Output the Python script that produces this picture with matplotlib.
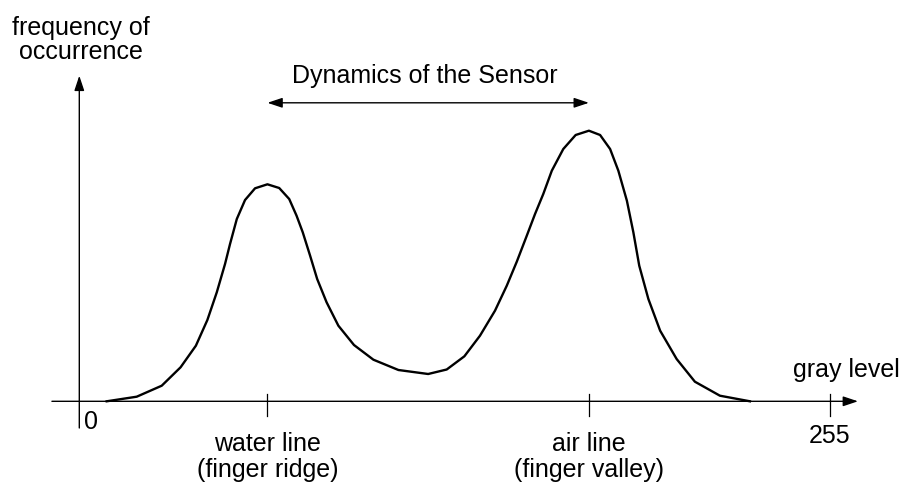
import matplotlib
matplotlib.use("Agg")
import matplotlib.pyplot as plt

plt.rcParams['font.family'] = ['Liberation Sans', 'DejaVu Sans']

# histogram outline (gray level, frequency of occurrence)
gray = [9.3, 19.5, 28.0, 34.4, 39.6, 43.5, 46.7, 49.5, 51.2, 53.5, 56.3, 59.7,
        63.9, 67.9, 71.3, 73.8, 75.9, 78.4, 80.8, 84.0, 88.0, 93.3, 99.9, 108.4,
        118.5, 124.8, 130.8, 136.1, 141.2, 145.2, 148.6, 152.0, 154.8, 157.6,
        160.5, 164.4, 168.6, 173.1, 176.9, 180.3, 183.1, 186.0, 188.2, 190.2,
        193.3, 197.3, 202.9, 209.1, 217.6, 227.8]
freq = [0, 4.6, 15.6, 34, 55.6, 81.3, 109, 137.3, 157.3, 182.3, 201.3, 213,
        217, 213.3, 202.3, 185.6, 169, 145.6, 122.3, 99, 75.6, 56.3, 41.6, 31.3,
        27.3, 31.8, 45, 65.6, 90.6, 115.6, 139.6, 165.6, 187.3, 207.3,
        230.6, 252.3, 266.3, 270.6, 266.3, 252.3, 230.6, 200.6, 169, 135.6,
        102.3, 70.6, 42.3, 19.6, 5.6, 0]

water_line = 63.9
air_line = 173.1
max_level = 255
tick_labels = ["water line\n(finger ridge)", "air line\n(finger valley)"]

fig = plt.figure(figsize=(9.03, 4.89), dpi=100)
ax = fig.add_axes([0, 0, 1, 1])
px = 2.944  # pixels per gray level
ax.set_xlim(-79.3 / px, (903 - 79.3) / px)
ax.set_ylim(402.3 - 489, 402.3)
ax.axis('off')

fs = 18
head = dict(arrowstyle='-|>,head_length=0.9,head_width=0.3', color='black',
            lw=1.0, shrinkA=0, shrinkB=0)

# axes with arrows
ax.annotate('', xy=(264.5, 0), xytext=(-9.3, 0), arrowprops=head)
ax.annotate('', xy=(0, 325.6), xytext=(0, -26.7), arrowprops=head)

# ticks
for t in [water_line, air_line, max_level]:
    ax.plot([t, t], [7.3, -14.4], color='black', lw=0.9)

# curve
ax.plot(gray, freq, color='black', lw=1.7)

# dynamics arrow
ax.annotate('', xy=(air_line, 298.5), xytext=(water_line, 298.5),
            arrowprops=dict(arrowstyle='<|-|>,head_length=0.9,head_width=0.3',
                            color='black', lw=1.0, shrinkA=0, shrinkB=0))
ax.text(117.4, 326.3, "Dynamics of the Sensor", ha='center', va='center', fontsize=fs)

ax.text(0.6, 362, "frequency of\noccurrence", ha='center', va='center',
        fontsize=fs, linespacing=1.02)
ax.text(278.8, 32.3, "gray level", ha='right', va='center', fontsize=fs)
ax.text(4, -19.7, "0", ha='center', va='center', fontsize=fs)
ax.text(max_level, -33.7, "255", ha='center', va='center', fontsize=fs)
for t, lab in zip([water_line, air_line], tick_labels):
    ax.text(t, -54.5, lab, ha='center', va='center', fontsize=fs, linespacing=1.12)

fig.savefig("out.png", dpi=100)
